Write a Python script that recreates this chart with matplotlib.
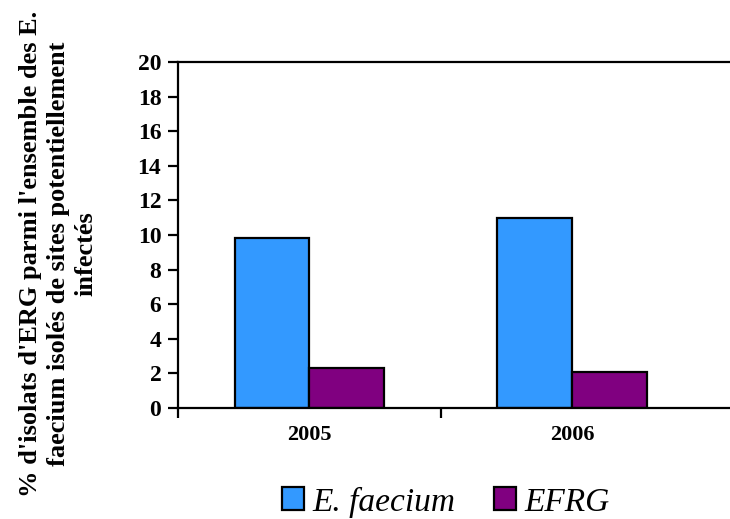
import numpy as np
import matplotlib.pyplot as plt

years = ["2005", "2006"]
faecium = [9.8, 11.0]
efrg = [2.3, 2.1]
series_names = ["E. faecium", "EFRG"]
colors = ["#3399FF", "#800080"]

serif = "Liberation Serif"
plt.rcParams['font.family'] = serif

fig = plt.figure(figsize=(7.3, 5.19), dpi=100)
ax = fig.add_axes([178 / 730, 1 - 408 / 519, 1 - 178 / 730, 346 / 519])

x = np.arange(len(years))
w = 0.285
bars1 = ax.bar(x - w / 2, faecium, w, color=colors[0], edgecolor="black",
               linewidth=1.6, label=series_names[0])
bars2 = ax.bar(x + w / 2, efrg, w, color=colors[1], edgecolor="black",
               linewidth=1.6, label=series_names[1])

ax.set_xlim(-0.5, 1.6)
ax.set_ylim(0, 20)
ax.set_yticks(range(0, 21, 2))
ax.set_yticklabels([str(v) for v in range(0, 21, 2)], family=serif,
                   fontsize=17, fontweight="bold")
ax.set_xticks(x)
ax.set_xticklabels(years, family=serif, fontsize=16, fontweight="bold")
ax.set_xticks([-0.5, 0.5], minor=True)
ax.tick_params(axis="x", which="major", length=0, pad=12)
ax.tick_params(axis="x", which="minor", length=7, width=1.6, direction="out")
ax.tick_params(axis="y", length=7, width=1.6, direction="out", pad=5)

for s in ["left", "bottom", "top"]:
    ax.spines[s].set_linewidth(1.6)
ax.spines["right"].set_visible(False)

# the long axis title runs past the picture edges in the original too
fig.text(58 / 730, 1 - 254 / 519,
         "% d'isolats d'ERG parmi l'ensemble des E.\nfaecium isolés de sites potentiellement\ninfectés",
         rotation=90, ha="center", va="center", multialignment="center",
         family=serif, fontsize=19, fontweight="bold", linespacing=1.25)

fig.legend(handles=[bars1, bars2], labels=series_names, loc="center",
           bbox_to_anchor=(446 / 730, 1 - 502 / 519), ncol=2, frameon=False,
           prop={"family": serif, "size": 24, "style": "italic"},
           handlelength=0.67, handleheight=0.67, handletextpad=0.25,
           columnspacing=1.15, borderpad=0, borderaxespad=0)

fig.savefig("out.png", dpi=100)
